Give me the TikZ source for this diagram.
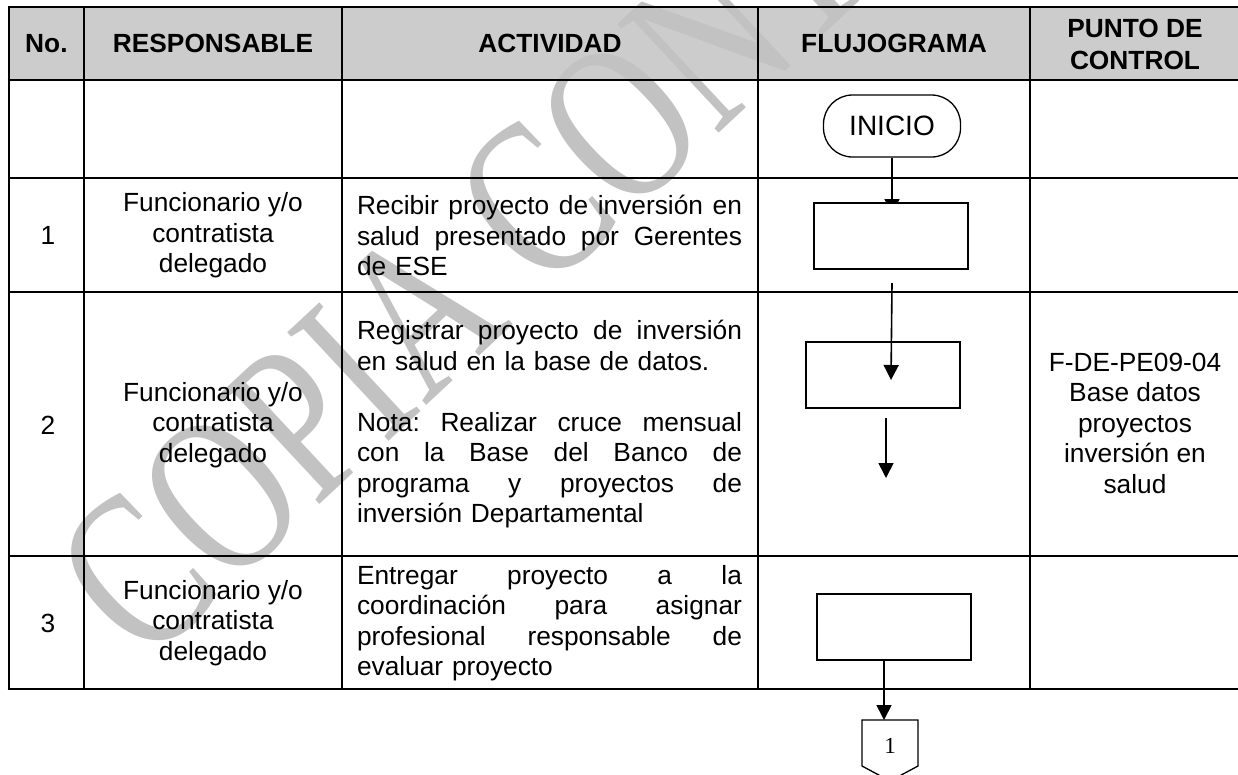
\documentclass[tikz,border=0pt]{standalone}
\usepackage{fontspec}
\setmainfont{Liberation Sans}
\newfontfamily\serifw{Liberation Serif}
\usetikzlibrary{arrows.meta}
\definecolor{hdr}{RGB}{204,204,204}
\definecolor{wmc}{RGB}{194,194,194}
\newcommand\jl[1]{\leavevmode\hbox to 385pt{#1}}
\frenchspacing
\begin{document}
\begin{tikzpicture}[x=1pt,y=-1pt,
  tline/.style={line width=2pt,black},
  hd/.style={font=\fontsize{26.3}{31.5}\selectfont\bfseries, inner sep=0pt, align=center},
  bd/.style={font=\fontsize{26.3}{30.5}\selectfont, inner sep=0pt, align=center},
  act/.style={font=\fontsize{26.3}{30.5}\selectfont, inner sep=0pt, text width=385pt, align=left},
  box/.style={draw, line width=1.3pt, fill=white, minimum width=154pt, minimum height=66pt, inner sep=0pt},
  arr/.style={line width=1.6pt, -{Triangle[length=15pt,width=15pt]}},
  wmark/.style={font=\serifw\fontsize{168}{168}\selectfont, text=wmc, inner sep=0pt, rotate=43, anchor=base west}
]
\useasboundingbox (0,0) rectangle (1238,774);
\clip (0,0) rectangle (1238,774);
% header fill
\fill[hdr] (8.7,7.3) rectangle (1240,80);
% watermark
\node[wmark] (wm) at (145,668) {\scalebox{1}[1.35]{COPIA CONTROLADA}};
% table lines
\foreach \yy in {7.3,80,178,292,556,689} \draw[tline] (7.7,\yy) -- (1240,\yy);
\foreach \xx in {8.7,84,341.5,758,1030} \draw[tline] (\xx,6.3) -- (\xx,690);
% header texts
\node[hd] (hno) at (46.4,43.5) {No.};
\node[hd] (hresp) at (213,43.5) {RESPONSABLE};
\node[hd] (hact) at (550,43.5) {ACTIVIDAD};
\node[hd] (hflu) at (894,43.5) {FLUJOGRAMA};
\node[hd] (hpc) at (1135,44.5) {PUNTO DE\\CONTROL};
% numbers
\node[bd] (n1) at (48,235.5) {1};
\node[bd] (n2) at (48,425) {2};
\node[bd] (n3) at (48,623) {3};
% responsables
\node[bd] (r1) at (213,235.5) {Funcionario y/o\\contratista\\delegado};
\node[bd] (r2) at (213,425) {Funcionario y/o\\contratista\\delegado};
\node[bd] (r3) at (213,623) {Funcionario y/o\\contratista\\delegado};
% actividades
\node[act] (a1) at (549.5,235.5) {\jl{Recibir\hfill proyecto\hfill de\hfill inversión\hfill en}\\\jl{salud\hfill presentado\hfill por\hfill Gerentes}\\de ESE};
\node[act] (a2) at (549.5,424.5) {\jl{Registrar\hfill proyecto\hfill de\hfill inversión}\\en salud en la base de datos.\\[30.5pt]\jl{Nota:\hfill Realizar\hfill cruce\hfill mensual}\\\jl{con\hfill la\hfill Base\hfill del\hfill Banco\hfill de}\\\jl{programa\hfill y\hfill proyectos\hfill de}\\inversión Departamental};
\node[act] (a3) at (549.5,623) {\jl{Entregar\hfill proyecto\hfill a\hfill la}\\\jl{coordinación\hfill para\hfill asignar}\\\jl{profesional\hfill responsable\hfill de}\\evaluar proyecto};
% punto de control
\node[bd] (pc2) at (1135,423) {F-DE-PE09-04\\Base datos\\proyectos\\inversión en\\salud};
% flowchart
\node[draw, line width=1.3pt, rounded corners=29pt, minimum width=137pt, minimum height=62pt, inner sep=0pt, font=\fontsize{28}{28}\selectfont] (inicio) at (892,126) {INICIO};
\coordinate (a1e) at (892,214);
\draw[arr] (inicio.south) -- (a1e);
\node[box] (b1) at (891,236) {};
\node[box] (b2) at (883,375) {};
\coordinate (a2s) at (892,283);
\coordinate (a2e) at (891,380);
\draw[arr] (a2s) -- (a2e);
\coordinate (a3s) at (886,418);
\coordinate (a3e) at (886,478);
\draw[arr] (a3s) -- (a3e);
\node[box] (b3) at (894,627) {};
\coordinate (c1top) at (884,720);
\draw[line width=1.3pt, fill=white] (862,720) -- (918,720) -- (918,766) -- (890,781) -- (862,766) -- cycle;
\draw[arr] (b3.south -| c1top) -- (c1top);
\node[font=\serifw\fontsize{23}{23}\selectfont, inner sep=0pt] (c1) at (890,746) {1};
\end{tikzpicture}
\end{document}
